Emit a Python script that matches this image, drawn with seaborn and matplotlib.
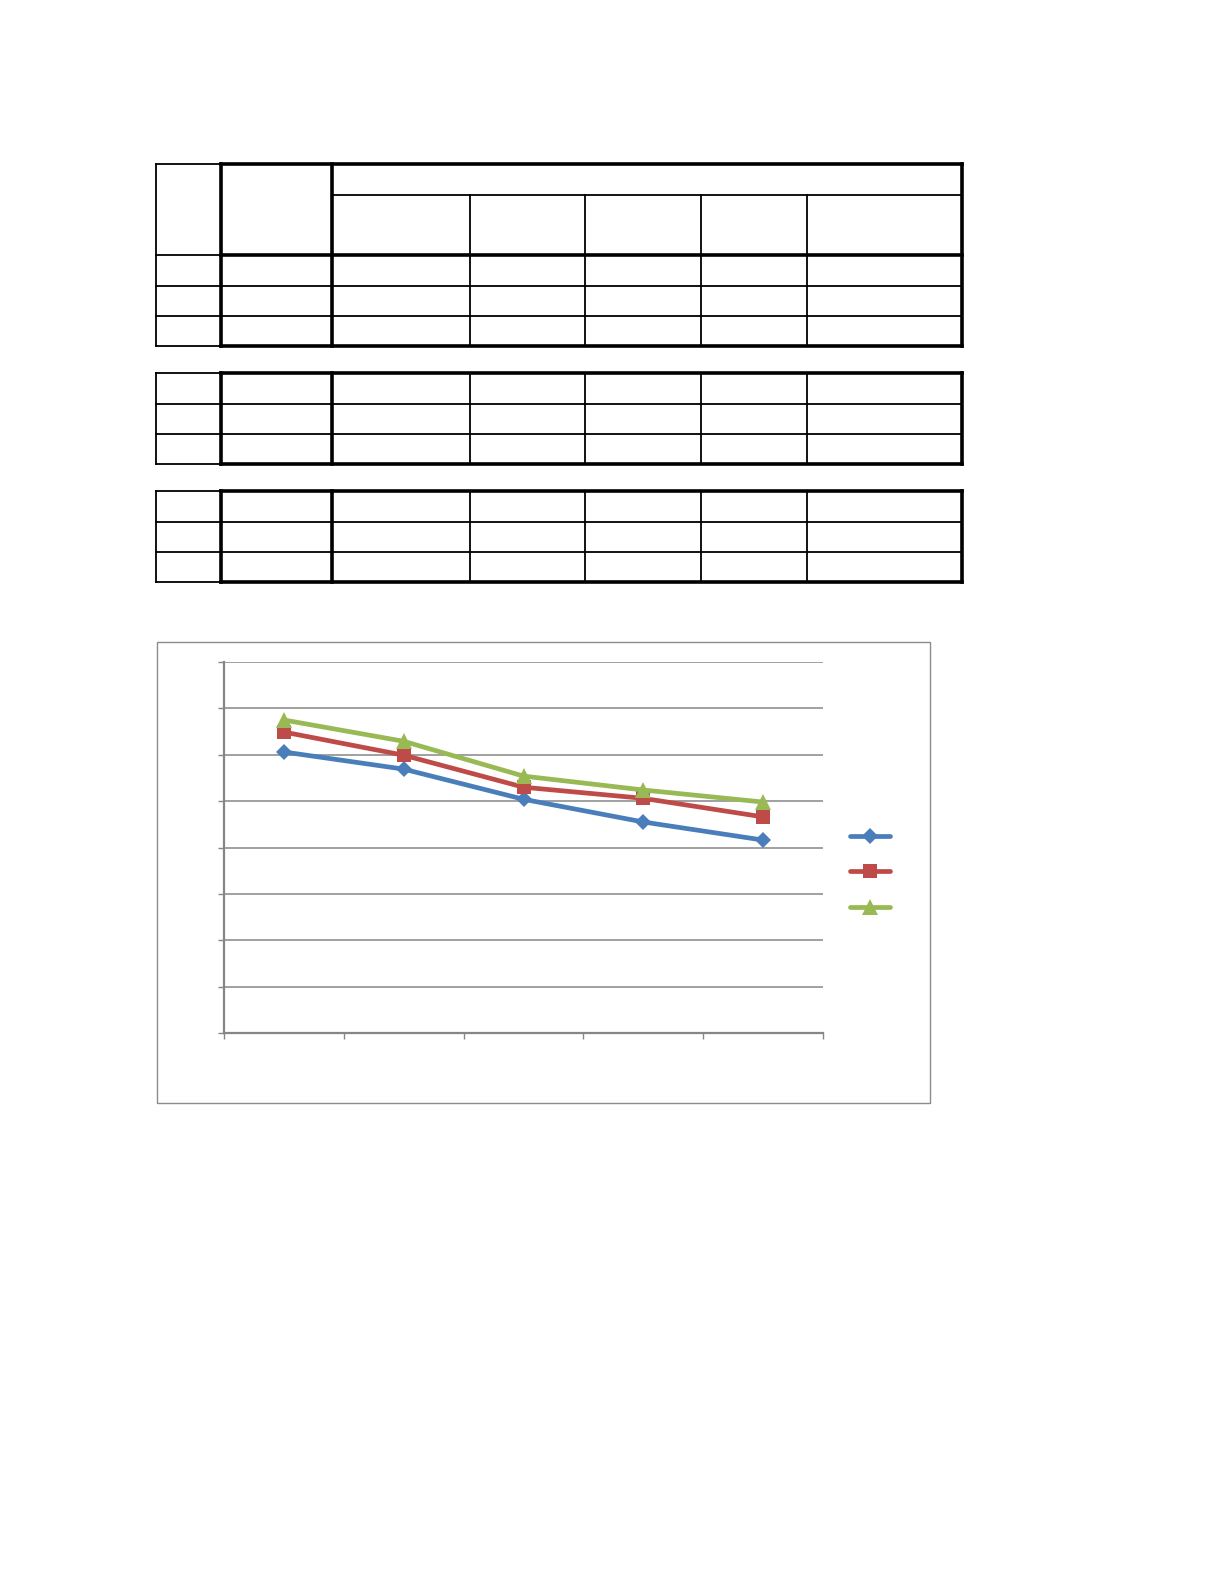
import matplotlib
matplotlib.use("Agg")
import matplotlib.pyplot as plt
import seaborn as sns
import pandas as pd
from matplotlib.lines import Line2D
from matplotlib.patches import Rectangle

sns.set_theme(style="white")
plt.rcParams['font.family'] = ['DejaVu Sans']

# ---- data (axis has no labels) ----
categories = [0, 1, 2, 3, 4]
series_names = ["A", "B", "C"]
values_a = [6.06, 5.69, 5.04, 4.55, 4.16]
values_b = [6.49, 5.99, 5.30, 5.06, 4.66]
values_c = [6.75, 6.29, 5.54, 5.24, 4.98]
y_ticks = [0, 1, 2, 3, 4, 5, 6, 7, 8]

colors = ["#4A7EBB", "#BE4B48", "#98B954"]
markers = ["D", "s", "^"]
msizes = [8, 10, 11]

W, H = 1224, 1584
fig = plt.figure(figsize=(W / 100, H / 100), dpi=100)
fig.patch.set_facecolor("white")

# ---- overlay for table grid (empty tables) ----
ov = fig.add_axes([0, 0, 1, 1])
ov.set_xlim(0, W)
ov.set_ylim(H, 0)
ov.axis("off")

THIN, THICK = 1.3, 2.6

def hl(y, x0, x1, lw):
    ov.plot([x0, x1], [y, y], color="black", lw=lw, solid_capstyle="projecting")

def vl(x, y0, y1, lw):
    ov.plot([x, x], [y0, y1], color="black", lw=lw, solid_capstyle="projecting")

cols = [156, 221, 332, 470, 585, 701, 807, 962]

# table 1 with header
t1_top, t1_sub, t1_head = 164, 195, 255
t1_rows = [286, 316]
t1_bot = 346
hl(t1_top, cols[0], cols[1], THIN)
hl(t1_top, cols[1], cols[-1], THICK)
hl(t1_sub, cols[2], cols[-1], THIN)
hl(t1_head, cols[0], cols[1], THIN)
hl(t1_head, cols[1], cols[-1], THICK)
for r in t1_rows:
    hl(r, cols[0], cols[-1], THIN)
hl(t1_bot, cols[0], cols[1], THIN)
hl(t1_bot, cols[1], cols[-1], THICK)
vl(cols[0], t1_top, t1_bot, THIN)
vl(cols[1], t1_top, t1_bot, THICK)
vl(cols[2], t1_top, t1_bot, THICK)
for c in cols[3:-1]:
    vl(c, t1_sub, t1_bot, THIN)
vl(cols[-1], t1_top, t1_bot, THICK)

# tables 2 and 3
for top, rows, bot in [(373, [404, 434], 464), (491, [522, 552], 582)]:
    hl(top, cols[0], cols[1], THIN)
    hl(top, cols[1], cols[-1], THICK)
    for r in rows:
        hl(r, cols[0], cols[-1], THIN)
    hl(bot, cols[0], cols[1], THIN)
    hl(bot, cols[1], cols[-1], THICK)
    vl(cols[0], top, bot, THIN)
    vl(cols[1], top, bot, THICK)
    vl(cols[2], top, bot, THICK)
    for c in cols[3:-1]:
        vl(c, top, bot, THIN)
    vl(cols[-1], top, bot, THICK)

# chart border
ov.add_patch(Rectangle((157, 642), 930 - 157, 1103 - 642, fill=False,
                       edgecolor="#8C8C8C", lw=1.0))

# ---- line chart ----
left, right, top, bottom = 224, 823, 662, 1033
ax = fig.add_axes([left / W, 1 - bottom / H, (right - left) / W, (bottom - top) / H])
ax.set_facecolor("none")

df = pd.DataFrame({
    "x": categories * 3,
    "y": values_a + values_b + values_c,
    "s": [series_names[0]] * 5 + [series_names[1]] * 5 + [series_names[2]] * 5,
})

for i, name in enumerate(series_names):
    sub = df[df["s"] == name]
    sns.lineplot(data=sub, x="x", y="y", ax=ax, color=colors[i], lw=3.4,
                 marker=markers[i], markersize=msizes[i], markeredgewidth=0,
                 legend=False, zorder=3 + i)

ax.set_xlim(-0.5, len(categories) - 0.5)
ax.set_ylim(y_ticks[0], y_ticks[-1])
ax.set_yticks(y_ticks)
ax.set_xticks([c - 0.5 for c in categories] + [categories[-1] + 0.5])
ax.set_xticklabels([])
ax.set_yticklabels([])
ax.set_xlabel("")
ax.set_ylabel("")
ax.grid(axis="y", color="#868686", lw=1.1)
ax.set_axisbelow(True)
for sp in ["top", "right"]:
    ax.spines[sp].set_visible(False)
for sp in ["left", "bottom"]:
    ax.spines[sp].set_color("#868686")
    ax.spines[sp].set_linewidth(1.6)
ax.tick_params(axis="both", direction="out", length=4, width=1.0, color="#868686",
               left=True, bottom=True)

handles = [Line2D([0], [0], color=colors[i], lw=3.4, marker=markers[i],
                  markersize=msizes[i], markeredgewidth=0) for i in range(3)]
leg = fig.legend(handles, [" ", " ", " "], loc="center left",
                 bbox_to_anchor=(850 / W, 1 - 872 / H), frameon=False,
                 handlelength=2.9, fontsize=10, labelspacing=1.55,
                 handletextpad=0.3, borderpad=0, borderaxespad=0)

fig.savefig("out.png", dpi=100, facecolor="white")
